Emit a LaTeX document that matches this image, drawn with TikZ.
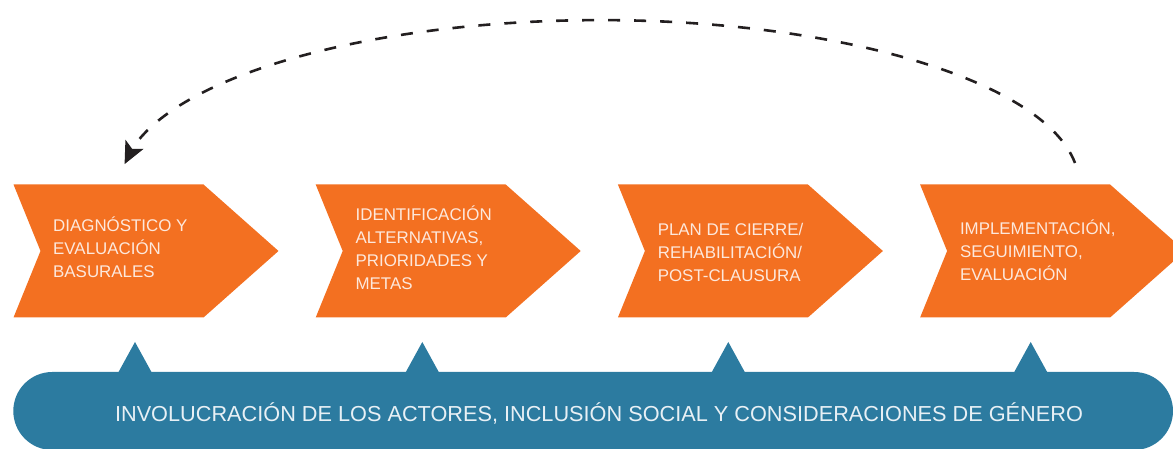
\documentclass[tikz,border=0pt]{standalone}
\usepackage{fontspec}
\setmainfont{Liberation Sans}
\usetikzlibrary{arrows.meta,bending}
\definecolor{chevorange}{RGB}{243,112,33}
\definecolor{barblue}{RGB}{44,123,160}
\definecolor{chevtext}{RGB}{253,232,220}
\definecolor{bartext}{RGB}{232,240,245}
\definecolor{arcdark}{RGB}{35,31,32}
\begin{document}
\begin{tikzpicture}[x=1pt,y=1pt,
  chevron/.style={fill=chevorange, draw=none},
  chevlabel/.style={anchor=west, inner sep=0pt, align=left, text=chevtext,
    font=\fontsize{16.9}{23}\selectfont},
  bar/.style={fill=barblue, draw=none},
  barlabel/.style={anchor=base, inner sep=0pt, text=bartext,
    font=\fontsize{21.7}{25}\selectfont},
  backarc/.style={draw=arcdark, line width=2.6pt, dash pattern=on 12pt off 14pt,
    -{Stealth[length=22pt,width=20pt,inset=5pt]}}
]
\useasboundingbox (0,0) rectangle (1173,449);

% chevrons
\foreach \L in {13.5,315.7,617.9,920.1}{
  \fill[chevron] (\L,264.5) -- ++(190,0) -- ++(75,-66.5) -- ++(-75,-66.5)
    -- ++(-190,0) -- ++(27,66.5) -- cycle;
}

% chevron labels
\node[chevlabel] (s1) at (53.0,202.2) {DIAGNÓSTICO Y\\EVALUACIÓN\\BASURALES};
\node[chevlabel] (s2) at (355.4,200.75) {IDENTIFICACIÓN\\ALTERNATIVAS,\\PRIORIDADES Y\\METAS};
\node[chevlabel] (s3) at (657.6,196.3) {PLAN DE CIERRE/\\REHABILITACIÓN/\\POST-CLAUSURA};
\node[chevlabel] (s4) at (959.8,198.25) {IMPLEMENTACIÓN,\\SEGUIMIENTO,\\EVALUACIÓN};

% blue bar with pointers
\fill[bar, rounded corners=39pt] (13.3,-1) rectangle (1173,77);
\foreach \X in {135,422.3,728.3,1030.7}{
  \fill[bar] (\X-17,76) -- (\X,107) -- (\X+17,76) -- cycle;
}
\node[barlabel] (bl) at (599,27.5) {INVOLUCRACIÓN DE LOS ACTORES, INCLUSIÓN SOCIAL Y CONSIDERACIONES DE GÉNERO};

% dashed feedback arc
\coordinate (arcstart) at (1075,286);
\draw[backarc] (arcstart) arc[start angle=7.4, end angle=173, x radius=479, y radius=164];
\end{tikzpicture}
\end{document}
